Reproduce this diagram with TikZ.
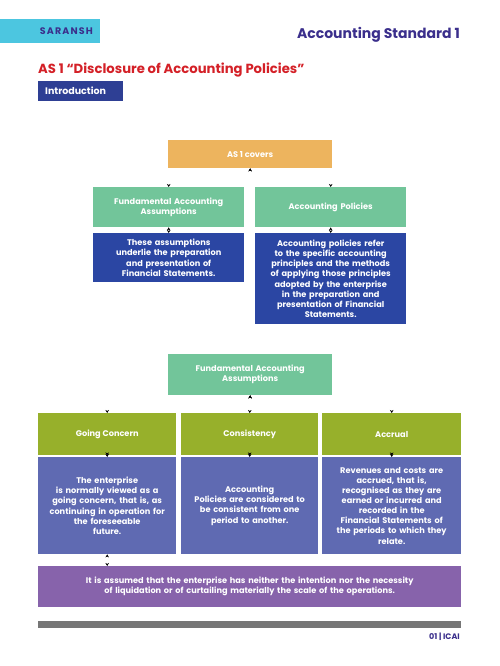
\documentclass[tikz,border=0pt]{standalone}
\usepackage{fontspec}
\setmainfont{Poppins}
\newfontfamily\sarfont[LetterSpace=12]{Poppins}
\usetikzlibrary{arrows.meta}
\definecolor{cyanbar}{HTML}{4CC6E0}
\definecolor{indigo}{HTML}{3B2F8C}
\definecolor{titlered}{HTML}{D42027}
\definecolor{introblue}{HTML}{2E3F94}
\definecolor{orangebox}{HTML}{EDB45E}
\definecolor{greenbox}{HTML}{72C59A}
\definecolor{darkblue}{HTML}{2B46A3}
\definecolor{olive}{HTML}{97B02B}
\definecolor{slate}{HTML}{5F6AB2}
\definecolor{violet}{HTML}{8763AB}
\definecolor{greybar}{HTML}{767676}
\tikzset{
  box/.style={draw=none, anchor=north west, inner sep=0pt, align=center,
    text=white, font=\fontsize{8.2}{10.1}\selectfont\bfseries},
  conn/.style={draw=white, line width=0.6pt,
    arrows={Stealth[length=3pt,width=3.5pt,black]-Stealth[length=3pt,width=3.5pt,black]}}
}
\begin{document}
\begin{tikzpicture}[x=1pt,y=-1pt]
\useasboundingbox[fill=white] (0,0) rectangle (500,666);
% header
\node[box, fill=cyanbar, minimum width=100pt, minimum height=24pt] (sar) at (0,19) {};
\node[anchor=east, text=indigo, inner sep=0pt, font=\fontsize{9.5}{11}\selectfont\sarfont\bfseries] (sartext) at (93,31) {SARANSH};
\node[anchor=east, text=indigo, inner sep=0pt, font=\fontsize{14}{16}\selectfont\bfseries] (std) at (460,35) {Accounting Standard 1};
\node[anchor=west, text=titlered, inner sep=0pt, font=\fontsize{13.2}{15}\selectfont\bfseries] (title) at (38,70) {AS 1 ``Disclosure of Accounting Policies''};
\node[box, fill=introblue, minimum width=85pt, minimum height=20pt] (intro) at (38,81) {};
\node[anchor=west, text=white, inner sep=0pt, font=\fontsize{9.5}{11}\selectfont\bfseries] (introtext) at (45,91) {Introduction};
% first tree
\node[box, fill=orangebox, minimum width=164pt, minimum height=28pt] (as1) at (168,140) {};
\node[text=white, font=\fontsize{8.2}{10}\selectfont\bfseries] (as1t) at (as1.center) {AS 1 covers};
\node[box, fill=greenbox, minimum width=151pt, minimum height=40pt, text width=145pt] (faa1) at (93,187) {Fundamental Accounting\\Assumptions};
\node[box, fill=greenbox, minimum width=151pt, minimum height=40pt, text width=145pt] (ap) at (255,187) {Accounting Policies};
\node[box, fill=darkblue, minimum width=151pt, minimum height=49pt, text width=145pt] (faa1d) at (93,233) {These assumptions\\underlie the preparation\\and presentation of\\Financial Statements.};
\node[box, fill=darkblue, minimum width=151pt, minimum height=91pt, text width=145pt] (apd) at (255,233) {Accounting policies refer\\to the specific accounting\\principles and the methods\\of applying those principles\\adopted by the enterprise\\in the preparation and\\presentation of Financial\\Statements.};
\coordinate (j1) at (250,178);
\draw[conn] (as1.south) -- (j1) -| (faa1.north);
\draw[conn] (as1.south) -- (j1) -| (ap.north);
\draw[conn] (faa1.south) -- (faa1d.north);
\draw[conn] (ap.south) -- (apd.north);
% second tree
\node[box, fill=greenbox, minimum width=164pt, minimum height=41pt, text width=155pt] (faa2) at (168,354) {Fundamental Accounting\\Assumptions};
\node[box, fill=olive, minimum width=138pt, minimum height=42pt] (gc) at (38,413) {Going Concern};
\node[box, fill=olive, minimum width=137pt, minimum height=42pt] (cons) at (181,413) {Consistency};
\node[box, fill=olive, minimum width=139pt, minimum height=42pt] (acc) at (322,413) {Accrual};
\node[box, fill=slate, minimum width=138pt, minimum height=97pt, text width=134pt] (gcd) at (38,457) {The enterprise\\is normally viewed as a\\going concern, that is, as\\continuing in operation for\\the foreseeable\\future.};
\node[box, fill=slate, minimum width=137pt, minimum height=97pt, text width=134pt] (consd) at (181,457) {Accounting\\Policies are considered to\\be consistent from one\\period to another.};
\node[box, fill=slate, minimum width=139pt, minimum height=97pt, text width=134pt] (accd) at (322,457) {Revenues and costs are\\accrued, that is,\\recognised as they are\\earned or incurred and\\recorded in the\\Financial Statements of\\the periods to which they\\relate.};
\node[box, fill=violet, minimum width=423pt, minimum height=41pt, text width=415pt] (gcx) at (38,566) {It is assumed that the enterprise has neither the intention nor the necessity\\of liquidation or of curtailing materially the scale of the operations.};
\coordinate (j2) at (250,404);
\draw[conn] (faa2.south) -- (j2) -| (gc.north);
\draw[conn] (faa2.south) -- (cons.north);
\draw[conn] (faa2.south) -- (j2) -| (acc.north);
\draw[conn] (gc.south) -- (gcd.north);
\draw[conn] (cons.south) -- (consd.north);
\draw[conn] (acc.south) -- (accd.north);
\draw[conn] (gcd.south) -- (gcd.south |- gcx.north);
% footer
\node[box, fill=greybar, minimum width=423pt, minimum height=7pt] (bar) at (38,621) {};
\node[anchor=east, text=indigo, inner sep=0pt, font=\fontsize{8}{10}\selectfont\bfseries] (foot) at (460,637) {01 | ICAI};
\end{tikzpicture}
\end{document}
